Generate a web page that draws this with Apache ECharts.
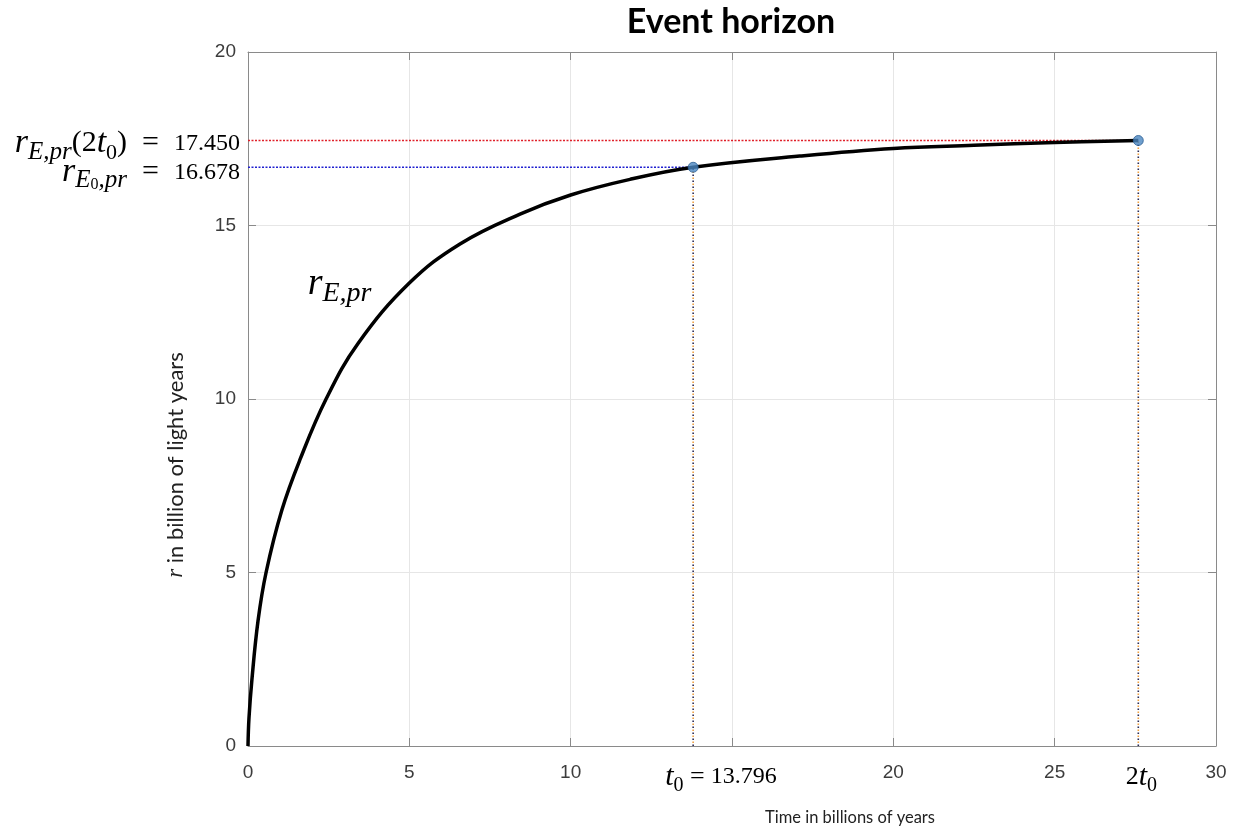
<!DOCTYPE html>
<html>
<head>
<meta charset="utf-8">
<title>Event horizon</title>
<script src="https://cdn.jsdelivr.net/npm/echarts@6/dist/echarts.min.js"></script>
<style>
  html, body { margin: 0; padding: 0; background: #fff; }
  #chart { width: 1238px; height: 836px; }
</style>
</head>
<body>
<div id="chart"></div>
<script>
// curve (time in Gyr, r in Gly)
const tValues = [0, 0.03, 0.12, 0.31, 0.56, 1.05, 1.61, 2.42, 3.41, 5.0, 6.57, 8.43, 10.0, 11.84, 13.796, 17.1, 20.0, 22.5, 25.0, 27.592]
const rValues = [0, 0.8, 1.9, 3.6, 5.0, 6.8, 8.25, 10.0, 11.6, 13.34, 14.47, 15.33, 15.88, 16.33, 16.678, 17.0, 17.22, 17.31, 17.39, 17.45]
const t0 = 13.796
const rE0 = 16.678
const r2t0 = 17.450
const hiddenXTicks = [15]   // covered by the t0 label in the original
const curveLabelAt = [1.85, 13.3]

const chart = echarts.init(document.getElementById('chart'))

const curve = tValues.map((t, i) => [t, rValues[i]])
const tickFont = { color: '#3c3c3c', fontSize: 19, fontFamily: 'Liberation Sans' }

// small helper for dotted guide lines
const guide = (data, color, dash, offset) => ({
    type: 'line',
    data,
    symbol: 'none',
    silent: true,
    z: 1,
    lineStyle: { color, width: 1.6, type: dash, dashOffset: offset || 0 }
})

const baseAxis = {
    min: 0,
    interval: 5,
    axisLine: { show: true, onZero: false, lineStyle: { color: '#8a8a8a', width: 1 } },
    axisTick: { show: true, inside: true, length: 8, lineStyle: { color: '#8a8a8a' } },
    splitLine: { show: false }
}

chart.setOption({
    animation: false,
    backgroundColor: '#fff',
    grid: { left: 248, right: 22, top: 52, bottom: 90 },
    xAxis: [
        Object.assign({}, baseAxis, {
            type: 'value', max: 30, position: 'bottom',
            axisLabel: Object.assign({
                margin: 17,
                formatter: v => hiddenXTicks.includes(v) ? '' : String(v)
            }, tickFont),
            splitLine: { show: true, lineStyle: { color: '#e6e6e6' } }
        }),
        Object.assign({}, baseAxis, {
            type: 'value', max: 30, position: 'top',
            axisLabel: { show: false }
        })
    ],
    yAxis: [
        Object.assign({}, baseAxis, {
            type: 'value', max: 20, position: 'left',
            axisLabel: Object.assign({ margin: 12 }, tickFont),
            splitLine: { show: true, lineStyle: { color: '#e6e6e6' } }
        }),
        Object.assign({}, baseAxis, {
            type: 'value', max: 20, position: 'right',
            axisLabel: { show: false }
        })
    ],
    series: [
        guide([[0, r2t0], [2 * t0, r2t0]], '#e0202a', [2, 1.5]),
        guide([[0, rE0], [t0, rE0]], '#2020d0', [2, 1.5]),
        guide([[t0, 0], [t0, rE0]], '#2a2a55', [1.5, 4.5]),
        guide([[t0, 0], [t0, rE0]], '#f0a040', [1.5, 4.5], 3),
        guide([[2 * t0, 0], [2 * t0, r2t0]], '#2a2a55', [1.5, 4.5]),
        guide([[2 * t0, 0], [2 * t0, r2t0]], '#f0a040', [1.5, 4.5], 3),
        {
            type: 'line',
            data: curve,
            smooth: 0.4,
            symbol: 'none',
            z: 3,
            lineStyle: { color: '#000', width: 3.5 }
        },
        {
            type: 'scatter',
            data: [[t0, rE0], [2 * t0, r2t0]],
            symbolSize: 10,
            z: 4,
            itemStyle: { color: '#4a86c0', borderColor: '#2d5f93', borderWidth: 1 }
        }
    ]
})

// math style annotations
const serif = 'Liberation Serif'
const makeRich = (big, num) => ({
    v: { fontFamily: serif, fontStyle: 'italic', fontSize: big, lineHeight: big + 8, color: '#000' },
    n: { fontFamily: serif, fontSize: big - 4, lineHeight: big + 8, color: '#000' },
    d: { fontFamily: serif, fontSize: num, lineHeight: big + 8, color: '#000' },
    s: { fontFamily: serif, fontStyle: 'italic', fontSize: Math.round(big * 0.74), lineHeight: Math.round(big * 0.62), verticalAlign: 'bottom', color: '#000' },
    ns: { fontFamily: serif, fontSize: Math.round(big * 0.66), lineHeight: Math.round(big * 0.58), verticalAlign: 'bottom', color: '#000' },
    ss: { fontFamily: serif, fontSize: Math.round(big * 0.48), lineHeight: Math.round(big * 0.3), verticalAlign: 'bottom', color: '#000' }
})
const richLeft = makeRich(34, 24)
const richAxis = makeRich(30, 24)
const richCurve = makeRich(38, 24)

const px = p => chart.convertToPixel({ gridIndex: 0 }, p)
const gl = px([0, 0])[0]
const pR2 = px([2 * t0, r2t0])
const pR0 = px([t0, rE0])
const pAxisT0 = px([t0, 0])
const pAxis2T0 = px([2 * t0, 0])
const pCurve = px(curveLabelAt)

const txt = (text, rich, x, y, align) => ({
    type: 'text', x, y, z: 10,
    style: { text, rich, align, verticalAlign: 'middle' }
})

chart.setOption({
    graphic: [
        {
            type: 'text', x: 731, y: 22, z: 10,
            style: { text: 'Event horizon', fontFamily: 'Lato', fontWeight: 'bold', fontSize: 34, fill: '#000', align: 'center', verticalAlign: 'middle' }
        },
        txt('{v|r}{s|E,pr}{n|(2}{v|t}{ns|0}{n|)  =  }{d|17.450}', richLeft, gl - 8, pR2[1] + 3, 'right'),
        txt('{v|r}{s|E}{ss|0}{s|,pr}{n|  =  }{d|16.678}', richLeft, gl - 8, pR0[1] + 5, 'right'),
        txt('{v|t}{ns|0}{n| =}{d| 13.796}', richAxis, pAxisT0[0] - 28, pAxisT0[1] + 31, 'left'),
        txt('{n|2}{v|t}{ns|0}', richAxis, pAxis2T0[0] + 3, pAxis2T0[1] + 31, 'center'),
        txt('{v|r}{s|E,pr}', richCurve, pCurve[0], pCurve[1], 'left'),
        {
            type: 'text', x: 850, y: 818, z: 10,
            style: { text: 'Time in billions of years', fontFamily: 'Lato', fontSize: 16.5, fill: '#222', align: 'center', verticalAlign: 'middle' }
        },
        {
            type: 'text', x: 176, y: 465, rotation: Math.PI / 2, z: 10,
            style: {
                text: '{i|r} in billion of light years',
                fontFamily: 'Lato', fontSize: 22, fill: '#222', align: 'center', verticalAlign: 'middle',
                rich: { i: { fontFamily: serif, fontStyle: 'italic', fontSize: 23, fill: '#222' } }
            }
        }
    ]
})
</script>
</body>
</html>
